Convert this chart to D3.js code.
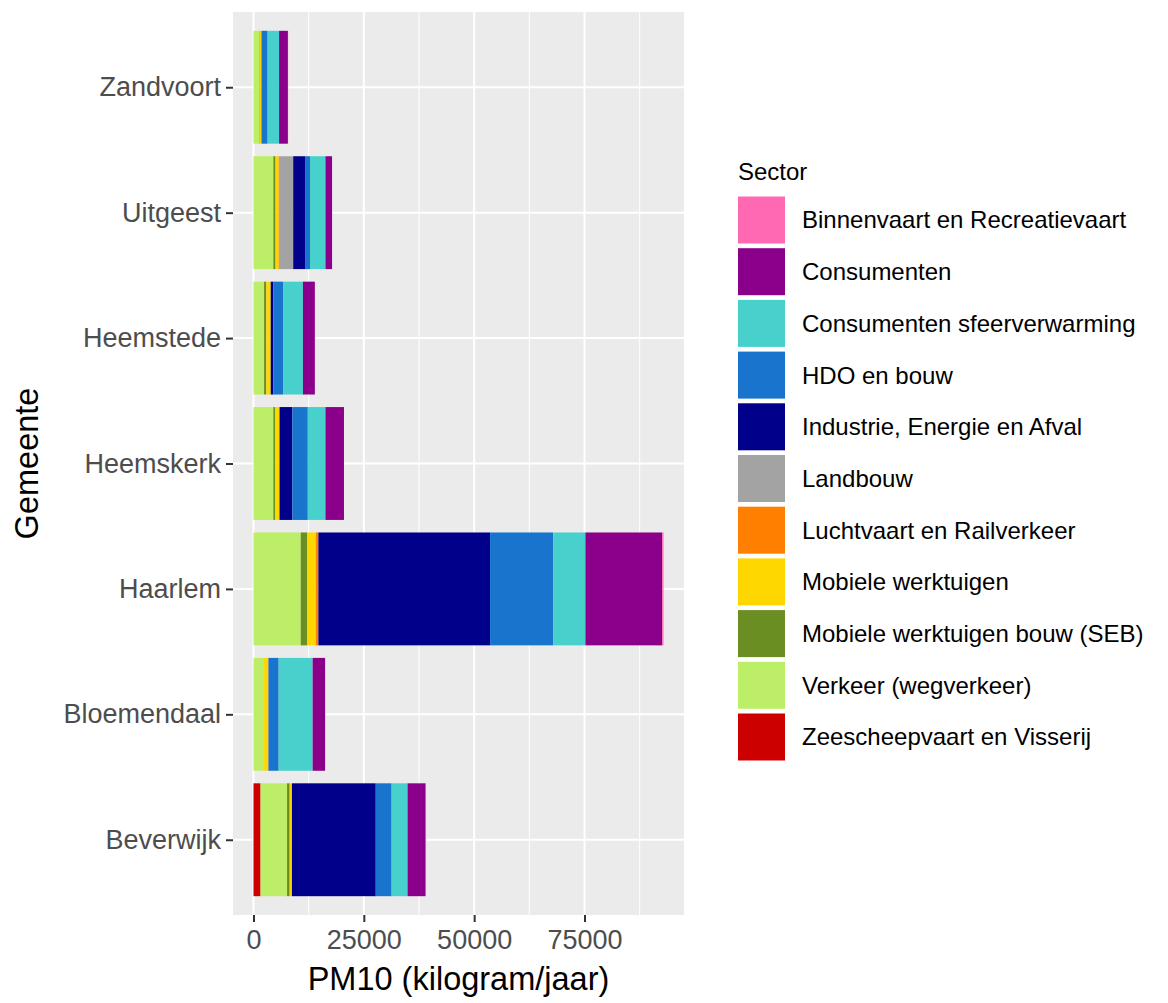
<!DOCTYPE html>
<html><head><meta charset="utf-8">
<script src="https://cdn.jsdelivr.net/npm/d3@7"></script>
<style>body{margin:0;background:#fff}svg{display:block;font-family:"Liberation Sans",Arial,sans-serif}</style>
</head><body><svg id="c" width="1168" height="1003"></svg>
<script>
const gemeenten = ["Beverwijk","Bloemendaal","Haarlem","Heemskerk","Heemstede","Uitgeest","Zandvoort"];
const sectors = ["Binnenvaart en Recreatievaart","Consumenten","Consumenten sfeerverwarming","HDO en bouw","Industrie, Energie en Afval","Landbouw","Luchtvaart en Railverkeer","Mobiele werktuigen","Mobiele werktuigen bouw (SEB)","Verkeer (wegverkeer)","Zeescheepvaart en Visserij"];
const colors = ["#FF69B4","#8B008B","#48D1CC","#1874CD","#00008B","#A3A3A3","#FF7F00","#FFD700","#6B8E23","#BCEE68","#CD0000"];
// values per sector, in gemeenten order
const binnenvaart   = [100, 50, 300, 0, 0, 0, 50];
const consumenten   = [4100, 2800, 17400, 4200, 2700, 1500, 2000];
const sfeer         = [3600, 7700, 7300, 4000, 4500, 3500, 2600];
const hdo           = [3600, 2300, 14300, 3500, 2200, 1000, 1400];
const industrie     = [19000, 0, 38900, 2900, 600, 2800, 0];
const landbouw      = [0, 0, 0, 0, 0, 3200, 0];
const luchtvaart    = [0, 100, 600, 0, 0, 100, 0];
const mobiel        = [500, 900, 1900, 1000, 1000, 700, 400];
const mobielBouw    = [600, 0, 1500, 400, 500, 500, 100];
const verkeer       = [6000, 2400, 10700, 4500, 2400, 4500, 1300];
const zeescheep     = [1600, 0, 0, 0, 0, 0, 0];
const xTicks = [0, 25000, 50000, 75000];

const series = [binnenvaart, consumenten, sfeer, hdo, industrie, landbouw, luchtvaart, mobiel, mobielBouw, verkeer, zeescheep];
const rows = gemeenten.map((g, i) => {
  const r = {gemeente: g};
  sectors.forEach((s, j) => r[s] = series[j][i]);
  return r;
});
// ggplot stacks first level at the far end: stack order = reversed sectors
const stackKeys = sectors.slice().reverse();
const stacked = d3.stack().keys(stackKeys)(rows);
const maxTotal = d3.max(rows, r => d3.sum(sectors, s => r[s]));

const svg = d3.select("#c");
const P = {left: 233, right: 684, top: 12, bottom: 915};
const x = d3.scaleLinear().domain([-0.05 * maxTotal, 1.05 * maxTotal]).range([P.left, P.right]);
// discrete axis with 0.6 expansion
const step = (P.bottom - P.top) / (gemeenten.length - 1 + 1.2);
const yc = d3.scalePoint().domain(gemeenten).range([P.bottom - 0.6 * step, P.top + 0.6 * step]);
const bh = 0.9 * step;

svg.append("rect").attr("x", P.left).attr("y", P.top).attr("width", P.right - P.left).attr("height", P.bottom - P.top).attr("fill", "#EBEBEB");
// minor grid
const minor = [];
for (let i = 0; i < xTicks.length - 1; i++) minor.push((xTicks[i] + xTicks[i + 1]) / 2);
minor.push(xTicks[xTicks.length - 1] + (xTicks[1] - xTicks[0]) / 2);
svg.append("g").selectAll("line").data(minor.filter(v => x(v) < P.right)).join("line")
  .attr("x1", d => x(d)).attr("x2", d => x(d)).attr("y1", P.top).attr("y2", P.bottom)
  .attr("stroke", "#fff").attr("stroke-width", 1);
svg.append("g").selectAll("line").data(xTicks).join("line")
  .attr("x1", d => x(d)).attr("x2", d => x(d)).attr("y1", P.top).attr("y2", P.bottom)
  .attr("stroke", "#fff").attr("stroke-width", 2);
svg.append("g").selectAll("line").data(gemeenten).join("line")
  .attr("x1", P.left).attr("x2", P.right).attr("y1", d => yc(d)).attr("y2", d => yc(d))
  .attr("stroke", "#fff").attr("stroke-width", 2);

// bars
svg.append("g").selectAll("g").data(stacked).join("g")
  .attr("fill", d => colors[sectors.indexOf(d.key)])
  .selectAll("rect").data(d => d).join("rect")
  .attr("x", d => x(d[0])).attr("width", d => Math.max(0, x(d[1]) - x(d[0])))
  .attr("y", d => yc(d.data.gemeente) - bh / 2).attr("height", bh);

// x axis
const xa = svg.append("g").attr("transform", `translate(0,${P.bottom})`)
  .call(d3.axisBottom(x).tickValues(xTicks).tickFormat(d3.format("d")).tickSize(7).tickPadding(8));
xa.select(".domain").remove();
xa.selectAll("line").attr("stroke", "#333").attr("stroke-width", 2);
xa.selectAll("text").attr("fill", "#4D4D4D").attr("font-size", 27).attr("font-family", "Liberation Sans, Arial, sans-serif");

// y axis
const ya = svg.append("g").attr("transform", `translate(${P.left},0)`)
  .call(d3.axisLeft(yc).tickSize(7).tickPadding(5));
ya.select(".domain").remove();
ya.selectAll("line").attr("stroke", "#333").attr("stroke-width", 2);
ya.selectAll("text").attr("fill", "#4D4D4D").attr("font-size", 27).attr("font-family", "Liberation Sans, Arial, sans-serif");

// axis titles
svg.append("text").attr("x", (P.left + P.right) / 2).attr("y", 990).attr("text-anchor", "middle")
  .attr("font-size", 32.5).attr("fill", "#000").text("PM10 (kilogram/jaar)");
svg.append("text").attr("transform", `translate(38,${(P.top + P.bottom) / 2}) rotate(-90)`).attr("text-anchor", "middle")
  .attr("font-size", 32.5).attr("fill", "#000").text("Gemeente");

// legend
const L = svg.append("g");
L.append("text").attr("x", 738).attr("y", 180).attr("font-size", 24).attr("fill", "#000").text("Sector");
const ky = d3.scaleBand().domain(sectors).range([196, 196 + 51.7 * sectors.length]).paddingInner(0);
const items = L.selectAll("g.it").data(sectors).join("g").attr("class", "it");
items.append("rect").attr("x", 738).attr("y", d => ky(d) + 0.5).attr("width", 47).attr("height", 47)
  .attr("fill", (d, i) => colors[i]);
items.append("text").attr("x", 802).attr("y", d => ky(d) + 24).attr("dy", "0.35em")
  .attr("font-size", 24).attr("fill", "#000").text(d => d);
</script></body></html>
